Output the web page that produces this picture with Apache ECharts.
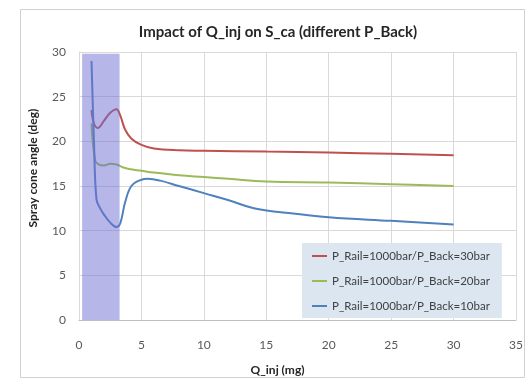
<!DOCTYPE html>
<html><head><meta charset="utf-8">
<script src="https://cdn.jsdelivr.net/npm/echarts@6/dist/echarts.min.js"></script>
<style>html,body{margin:0;padding:0;background:#fff}#c{width:526px;height:381px}</style>
</head><body><div id="c"></div>
<script>
const seriesNames = ['P_Rail=1000bar/P_Back=30bar','P_Rail=1000bar/P_Back=20bar','P_Rail=1000bar/P_Back=10bar'];
const redX =   [1.0, 1.2, 1.5, 2.0, 2.5, 3.0, 3.3, 3.7, 4.2, 5.0, 6.0, 8.0, 10, 15, 20, 25, 30];
const redY =   [23.5, 22.0, 21.5, 22.3, 23.2, 23.6, 22.9, 21.3, 20.3, 19.6, 19.2, 19.0, 18.95, 18.85, 18.75, 18.6, 18.45];
const greenX = [1.0, 1.3, 1.6, 2.0, 2.5, 3.0, 3.5, 4.0, 5.0, 6.0, 8.0, 10, 12, 15, 20, 25, 30];
const greenY = [22.0, 17.8, 17.4, 17.3, 17.5, 17.4, 17.1, 16.9, 16.7, 16.5, 16.2, 16.0, 15.8, 15.5, 15.4, 15.2, 15.0];
const blueX =  [1.0, 1.2, 1.4, 1.7, 2.0, 2.5, 3.0, 3.3, 3.7, 4.2, 5.0, 5.5, 6.5, 8.0, 10, 12, 14, 16, 20, 25, 30];
const blueY =  [29.0, 20.0, 13.5, 12.5, 11.8, 10.9, 10.4, 10.8, 13.2, 15.0, 15.7, 15.8, 15.6, 15.0, 14.2, 13.4, 12.5, 12.1, 11.5, 11.1, 10.7];
const shadeRange = [0.25, 3.25];
const xTicks = [0, 5, 10, 15, 20, 25, 30, 35];
const yTicks = [0, 5, 10, 15, 20, 25, 30];

const zip = (xs, ys) => xs.map((x, i) => [x, ys[i]]);
const font = 'Lato, "Open Sans", sans-serif';
const chart = echarts.init(document.getElementById('c'));
chart.setOption({
  animation: false,
  title: {text: 'Impact of Q_inj on S_ca (different P_Back)', left: 273, top: 20, textAlign: 'center',
    textStyle: {fontFamily: font, fontSize: 15, fontWeight: 'bold', color: '#262626'}},
  graphic: [{type: 'rect', shape: {x: 20.5, y: 9.5, width: 504, height: 368}, style: {fill: 'none', stroke: '#d0d0d0', lineWidth: 1}, z: -1}],
  grid: {left: 79, right: 9, top: 52, bottom: 61},
  legend: {orient: 'vertical', left: 302, top: 243, width: 210, itemGap: 13,
    backgroundColor: '#dce6f1', padding: [7, 12, 6, 10], itemWidth: 15, itemHeight: 2,
    icon: 'rect', textStyle: {fontFamily: font, fontSize: 11.5, color: '#404040'},
    data: seriesNames},
  xAxis: {type: 'value', min: 0, max: 35, interval: 5, name: 'Q_inj (mg)', nameLocation: 'middle', nameGap: 44,
    nameTextStyle: {fontFamily: font, fontSize: 12, fontWeight: 'bold', color: '#262626', padding: [0, 0, 0, -40]},
    axisLine: {lineStyle: {color: '#bfbfbf'}}, axisTick: {show: false},
    axisLabel: {fontFamily: font, fontSize: 12, color: '#595959', margin: 19},
    splitLine: {lineStyle: {color: '#d9d9d9'}}},
  yAxis: {type: 'value', min: 0, max: 30, interval: 5, name: 'Spray cone angle (deg)', nameLocation: 'middle', nameGap: 40,
    nameTextStyle: {fontFamily: font, fontSize: 12, fontWeight: 'bold', color: '#262626', padding: [0, 0, 0, 36]},
    axisLine: {show: true, lineStyle: {color: '#d9d9d9'}}, axisTick: {show: false},
    axisLabel: {fontFamily: font, fontSize: 12, color: '#595959', margin: 13},
    splitLine: {lineStyle: {color: '#d9d9d9'}}},
  series: [
    {name: seriesNames[0], type: 'line', data: zip(redX, redY), smooth: 0.4, showSymbol: false,
      lineStyle: {width: 2, color: '#c0504d'}, itemStyle: {color: '#c0504d'}, z: 2},
    {name: seriesNames[1], type: 'line', data: zip(greenX, greenY), smooth: 0.4, showSymbol: false,
      lineStyle: {width: 2, color: '#9bbb59'}, itemStyle: {color: '#9bbb59'}, z: 2},
    {name: seriesNames[2], type: 'line', data: zip(blueX, blueY), smooth: 0.4, showSymbol: false,
      lineStyle: {width: 2, color: '#4f81bd'}, itemStyle: {color: '#4f81bd'}, z: 2},
    {name: 'shade', type: 'line', data: [], z: 5,
      markArea: {silent: true, z: 5, itemStyle: {color: 'rgba(110,110,210,0.5)'},
        data: [[{xAxis: shadeRange[0], yAxis: 0}, {xAxis: shadeRange[1], yAxis: 29.8}]]}}
  ]
});
</script></body></html>
